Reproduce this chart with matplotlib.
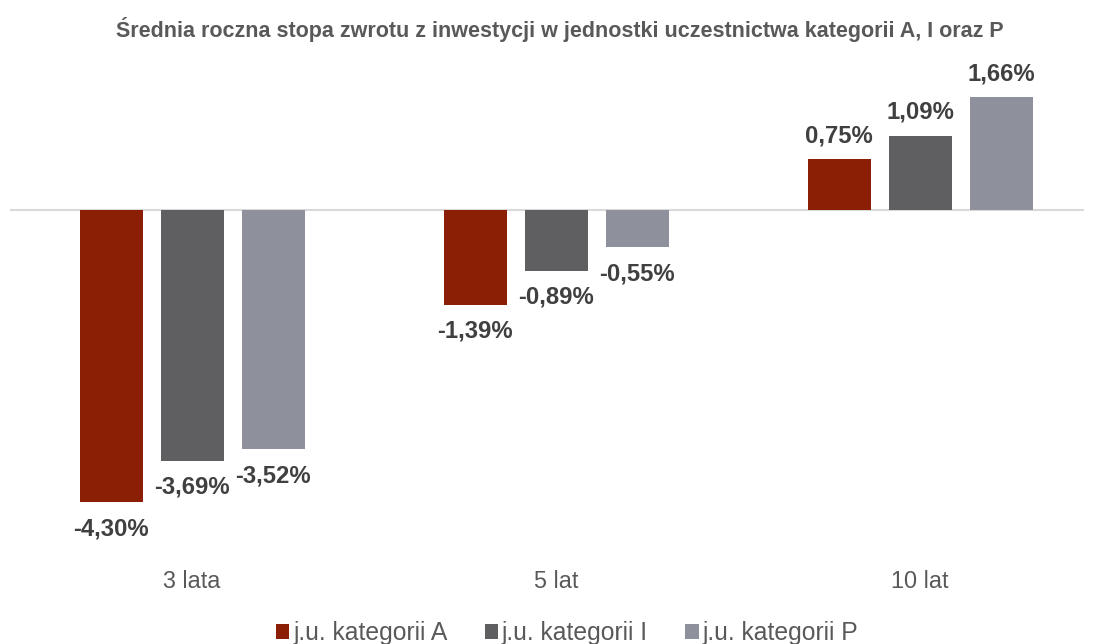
import matplotlib.pyplot as plt
import numpy as np

plt.rcParams['font.family'] = ['Liberation Sans', 'DejaVu Sans']

categories = ['3 lata', '5 lat', '10 lat']
series_names = ['j.u. kategorii A', 'j.u. kategorii I', 'j.u. kategorii P']
vals_a = [-4.30, -1.39, 0.75]
vals_i = [-3.69, -0.89, 1.09]
vals_p = [-3.52, -0.55, 1.66]
colors = ['#8B1F05', '#5F5F61', '#8E909B']

fig = plt.figure(figsize=(10.94, 6.44), dpi=100)
ax = fig.add_axes([10/1094, 1-555/644, 1074/1094, 495/644])

x = np.arange(len(categories))
w = 63/364
step = 81/364
for k, (vals, name, col) in enumerate(zip([vals_a, vals_i, vals_p], series_names, colors)):
    xs = x + (k-1)*step
    ax.bar(xs, vals, width=w, color=col, label=name, zorder=2)
    for xi, v in zip(xs, vals):
        lbl = ('%.2f%%' % v).replace('.', ',')
        if v >= 0:
            ax.annotate(lbl, (xi, v), xytext=(0, 12), textcoords='offset pixels',
                        ha='center', va='bottom', fontsize=17.2, fontweight='bold', color='#404040')
        else:
            ax.annotate(lbl, (xi, v), xytext=(0, -15), textcoords='offset pixels',
                        ha='center', va='top', fontsize=17.2, fontweight='bold', color='#404040')

ax.axhline(0, color='#D9D9D9', lw=1.5, zorder=1)
ax.set_xlim(-0.5, 1074/364 - 0.5)
ax.set_ylim(-(555-210)/68, (210-60)/68)
ax.set_xticks(x)
ax.set_xticklabels(categories, fontsize=16.8, color='#595959')
ax.tick_params(axis='x', length=0, pad=11)
ax.set_yticks([])
for s in ax.spines.values():
    s.set_visible(False)

fig.text(560/1094, 1-30/644, 'Średnia roczna stopa zwrotu z inwestycji w jednostki uczestnictwa kategorii A, I oraz P',
         ha='center', va='center', fontsize=15.5, fontweight='bold', color='#595959')

fig.legend(loc='center', bbox_to_anchor=(567/1094, 1-633/644), ncol=3, frameon=False,
           fontsize=17.8, handlelength=0.55, handleheight=0.55, handletextpad=0.15,
           columnspacing=1.5, labelcolor='#595959', borderpad=0.2)

fig.savefig('out.png', dpi=100)
